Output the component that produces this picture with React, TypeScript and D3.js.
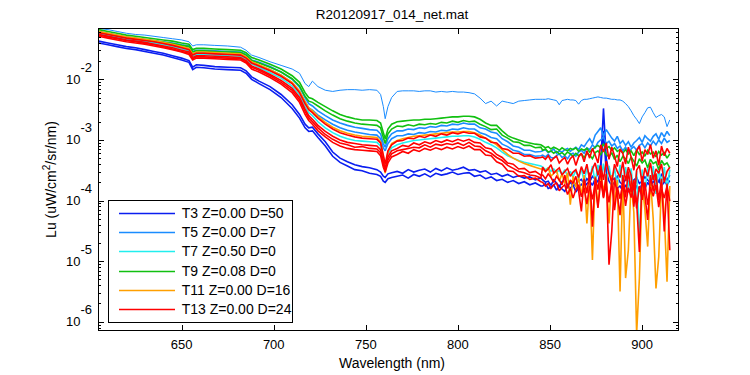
import React from 'react';
import * as d3 from 'd3';

// Wavelength grids (nm): smooth part and noisy tail
const WL_SMOOTH = [
  605, 610, 615, 620, 625, 630, 635, 640, 645, 650,
  654, 656, 658, 662, 668, 675, 682, 685, 688, 692,
  698, 704, 710, 714, 717, 719, 721, 724, 728, 732,
  736, 740, 744, 748, 752, 756, 758, 759.5, 760.5, 762,
  764, 767, 770, 773, 776, 779, 782, 785, 788, 791,
  794, 797, 800, 803, 806, 809, 812, 815, 818, 821,
  824, 827, 830, 833, 836, 839, 842, 845,
];
const WL_NOISE = [
  846, 847.5, 849, 850.5, 852, 853.5, 855, 856.5, 858, 859.5,
  861, 862.5, 864, 865.5, 867, 868.5, 870, 871.5, 873, 874.5,
  876, 877.5, 879, 880.5, 882, 883.5, 885, 886.5, 888, 889.5,
  891, 892.5, 894, 895.5, 897, 898.5, 900, 901.5, 903, 904.5,
  906, 907.5, 909, 910.5, 912, 913.5, 915,
];

// log10(Lu) values
const T3A = [
  -1.37, -1.40, -1.43, -1.46, -1.48, -1.51, -1.54, -1.57, -1.61, -1.65,
  -1.69, -1.80, -1.76, -1.77, -1.79, -1.80, -1.81, -1.86, -1.96, -2.03,
  -2.12, -2.25, -2.42, -2.58, -2.74, -2.80, -2.79, -2.90, -3.03, -3.20,
  -3.30, -3.36, -3.41, -3.44, -3.46, -3.49, -3.53, -3.60, -3.62, -3.56,
  -3.54, -3.52, -3.55, -3.49, -3.53, -3.50, -3.48, -3.53, -3.47, -3.51,
  -3.46, -3.50, -3.48, -3.45, -3.50, -3.49, -3.53, -3.51, -3.57, -3.55,
  -3.60, -3.57, -3.62, -3.59, -3.63, -3.61, -3.66, -3.63,
];
const T3A_N = [
  -3.66, -3.70, -3.68, -3.75, -3.66, -3.71, -3.77, -3.69, -3.66, -3.74,
  -3.70, -3.76, -3.72, -3.68, -3.65, -3.73, -3.64, -3.69, -3.60, -3.65,
  -3.55, -3.40, -2.48, -3.30, -3.55, -3.62, -3.66, -3.60, -3.70, -3.74,
  -3.64, -3.69, -3.77, -3.66, -3.62, -3.72, -3.68, -3.61, -3.66, -3.71,
  -3.58, -3.64, -3.69, -3.57, -3.62, -3.66, -3.58,
];
const T3B = [
  -1.40, -1.43, -1.46, -1.49, -1.51, -1.54, -1.57, -1.60, -1.64, -1.68,
  -1.72, -1.84, -1.80, -1.81, -1.83, -1.84, -1.85, -1.90, -2.00, -2.07,
  -2.17, -2.30, -2.48, -2.64, -2.80, -2.86, -2.85, -2.96, -3.10, -3.27,
  -3.37, -3.43, -3.49, -3.51, -3.55, -3.57, -3.60, -3.68, -3.70, -3.64,
  -3.62, -3.60, -3.58, -3.63, -3.57, -3.60, -3.56, -3.61, -3.55, -3.58,
  -3.56, -3.53, -3.57, -3.55, -3.54, -3.60, -3.58, -3.64, -3.61, -3.67,
  -3.65, -3.70, -3.67, -3.72, -3.69, -3.74, -3.71, -3.76,
];
const T3B_N = [
  -3.76, -3.72, -3.80, -3.78, -3.74, -3.83, -3.76, -3.81, -3.85, -3.75,
  -3.80, -3.74, -3.86, -3.79, -3.73, -3.78, -3.72, -3.68, -3.75, -3.64,
  -3.70, -3.48, -2.85, -3.52, -3.68, -3.75, -3.70, -3.80, -3.76, -3.84,
  -3.74, -3.86, -3.79, -3.90, -3.75, -3.82, -3.72, -3.80, -3.70, -3.77,
  -3.68, -3.74, -3.66, -3.76, -3.69, -3.74, -3.67,
];
const T5A = [
  -1.16, -1.18, -1.21, -1.24, -1.26, -1.27, -1.29, -1.31, -1.33, -1.35,
  -1.38, -1.45, -1.43, -1.43, -1.44, -1.45, -1.47, -1.52, -1.60, -1.64,
  -1.71, -1.77, -1.83, -1.90, -2.07, -2.12, -2.03, -2.12, -2.18, -2.20,
  -2.18, -2.17, -2.17, -2.18, -2.17, -2.18, -2.25, -2.45, -2.65, -2.45,
  -2.30, -2.20, -2.19, -2.19, -2.19, -2.20, -2.19, -2.19, -2.21, -2.20,
  -2.21, -2.20, -2.21, -2.21, -2.22, -2.24, -2.31, -2.40, -2.36, -2.44,
  -2.36, -2.38, -2.40, -2.36, -2.35, -2.34, -2.33, -2.33,
];
const T5A_N = [
  -2.33, -2.33, -2.32, -2.33, -2.34, -2.35, -2.42, -2.35, -2.34, -2.33,
  -2.34, -2.34, -2.35, -2.41, -2.35, -2.33, -2.33, -2.32, -2.31, -2.30,
  -2.29, -2.30, -2.31, -2.31, -2.32, -2.33, -2.33, -2.34, -2.34, -2.36,
  -2.40, -2.45, -2.52, -2.60, -2.66, -2.73, -2.62, -2.55, -2.47, -2.46,
  -2.55, -2.63, -2.60, -2.58, -2.62, -2.78, -2.67,
];
const T5B = [
  -1.21, -1.24, -1.27, -1.30, -1.32, -1.34, -1.36, -1.38, -1.40, -1.43,
  -1.45, -1.54, -1.52, -1.52, -1.53, -1.54, -1.55, -1.59, -1.68, -1.72,
  -1.79, -1.88, -2.00, -2.13, -2.30, -2.40, -2.44, -2.52, -2.60, -2.67,
  -2.72, -2.76, -2.79, -2.81, -2.83, -2.84, -2.90, -3.06, -3.12, -2.98,
  -2.90, -2.85, -2.85, -2.82, -2.83, -2.80, -2.81, -2.78, -2.79, -2.76,
  -2.77, -2.74, -2.75, -2.72, -2.74, -2.74, -2.80, -2.82, -2.87, -2.89,
  -2.98, -3.03, -3.10, -3.12, -3.17, -3.17, -3.20, -3.19,
];
const T5B_N = [
  -3.18, -3.16, -3.21, -3.19, -3.15, -3.22, -3.18, -3.20, -3.16, -3.14,
  -3.19, -3.15, -3.12, -3.16, -3.08, -3.11, -3.04, -2.98, -3.06, -2.92,
  -2.86, -2.80, -2.94, -2.83, -2.90, -2.97, -3.02, -2.94, -3.06, -3.01,
  -3.09, -3.03, -3.12, -3.05, -3.01, -2.96, -3.04, -2.93, -2.98, -3.02,
  -2.94, -2.90, -2.99, -2.88, -2.95, -2.86, -2.93,
];
const T5C = [
  -1.25, -1.28, -1.31, -1.34, -1.36, -1.38, -1.40, -1.42, -1.44, -1.47,
  -1.49, -1.58, -1.56, -1.56, -1.57, -1.58, -1.59, -1.63, -1.72, -1.77,
  -1.84, -1.93, -2.06, -2.20, -2.37, -2.47, -2.51, -2.59, -2.67, -2.74,
  -2.80, -2.84, -2.87, -2.89, -2.91, -2.92, -2.98, -3.13, -3.18, -3.06,
  -2.98, -2.93, -2.93, -2.90, -2.91, -2.88, -2.89, -2.86, -2.87, -2.84,
  -2.85, -2.82, -2.83, -2.80, -2.82, -2.82, -2.88, -2.91, -2.96, -2.98,
  -3.07, -3.11, -3.17, -3.19, -3.24, -3.24, -3.27, -3.26,
];
const T5C_N = [
  -3.25, -3.28, -3.24, -3.29, -3.30, -3.26, -3.23, -3.29, -3.26, -3.31,
  -3.24, -3.22, -3.27, -3.20, -3.17, -3.22, -3.13, -3.16, -3.08, -3.13,
  -3.04, -3.00, -2.95, -3.06, -3.02, -3.10, -3.06, -3.14, -3.10, -3.18,
  -3.12, -3.20, -3.15, -3.11, -3.17, -3.09, -3.06, -3.13, -3.05, -3.10,
  -3.02, -3.08, -3.00, -3.06, -2.97, -3.04, -3.01,
];
const T7A = [
  -1.24, -1.27, -1.30, -1.33, -1.35, -1.37, -1.40, -1.43, -1.46, -1.50,
  -1.53, -1.62, -1.59, -1.59, -1.60, -1.61, -1.62, -1.67, -1.75, -1.80,
  -1.89, -1.98, -2.11, -2.26, -2.45, -2.55, -2.60, -2.70, -2.80, -2.88,
  -2.94, -2.98, -3.01, -3.02, -3.03, -3.04, -3.10, -3.30, -3.44, -3.23,
  -3.13, -3.08, -3.05, -3.03, -3.01, -3.00, -2.99, -2.98, -2.97, -2.96,
  -2.95, -2.94, -2.94, -2.93, -2.93, -2.95, -2.99, -3.04, -3.08, -3.13,
  -3.20, -3.26, -3.30, -3.34, -3.37, -3.39, -3.41, -3.43,
];
const T7A_N = [
  -3.45, -3.49, -3.46, -3.52, -3.48, -3.54, -3.50, -3.57, -3.49, -3.60,
  -3.52, -3.61, -3.50, -3.64, -3.47, -3.69, -3.46, -3.65, -3.43, -3.71,
  -3.41, -3.66, -3.39, -3.74, -3.43, -3.69, -3.46, -3.77, -3.41, -3.71,
  -3.45, -3.79, -3.47, -3.94, -3.51, -4.71, -3.49, -3.84, -3.46, -3.75,
  -3.43, -3.89, -3.47, -3.73, -3.45, -3.81, -3.49,
];
const T9A = [
  -1.18, -1.21, -1.24, -1.27, -1.29, -1.31, -1.33, -1.35, -1.37, -1.40,
  -1.42, -1.51, -1.49, -1.49, -1.50, -1.51, -1.52, -1.56, -1.64, -1.68,
  -1.75, -1.83, -1.94, -2.05, -2.22, -2.30, -2.32, -2.38, -2.45, -2.52,
  -2.58, -2.62, -2.65, -2.67, -2.67, -2.68, -2.72, -2.88, -2.98, -2.82,
  -2.74, -2.70, -2.69, -2.68, -2.67, -2.67, -2.66, -2.66, -2.65, -2.64,
  -2.63, -2.62, -2.62, -2.61, -2.61, -2.62, -2.66, -2.72, -2.76, -2.76,
  -2.85, -2.93, -2.97, -3.00, -3.03, -3.05, -3.07, -3.08,
];
const T9A_N = [
  -3.10, -3.13, -3.11, -3.15, -3.12, -3.14, -3.17, -3.13, -3.16, -3.18,
  -3.14, -3.16, -3.13, -3.19, -3.15, -3.17, -3.14, -3.20, -3.16, -3.12,
  -3.09, -3.13, -3.07, -3.14, -3.11, -3.17, -3.13, -3.19, -3.16, -3.22,
  -3.16, -3.23, -3.18, -3.26, -3.17, -3.24, -3.20, -3.27, -3.17, -3.23,
  -3.20, -3.28, -3.19, -3.25, -3.21, -3.30, -3.23,
];
const T9B = [
  -1.22, -1.25, -1.28, -1.31, -1.33, -1.35, -1.37, -1.39, -1.41, -1.44,
  -1.46, -1.55, -1.53, -1.53, -1.54, -1.55, -1.56, -1.60, -1.69, -1.73,
  -1.80, -1.88, -1.99, -2.11, -2.28, -2.36, -2.38, -2.44, -2.52, -2.59,
  -2.65, -2.69, -2.72, -2.74, -2.75, -2.76, -2.80, -2.96, -3.06, -2.90,
  -2.82, -2.77, -2.78, -2.75, -2.77, -2.74, -2.75, -2.73, -2.74, -2.71,
  -2.72, -2.69, -2.71, -2.68, -2.70, -2.69, -2.74, -2.78, -2.83, -2.82,
  -2.92, -2.97, -3.03, -3.04, -3.09, -3.09, -3.13, -3.12,
];
const T9B_N = [
  -3.17, -3.15, -3.20, -3.18, -3.22, -3.19, -3.23, -3.21, -3.25, -3.20,
  -3.23, -3.27, -3.22, -3.26, -3.23, -3.29, -3.22, -3.25, -3.31, -3.21,
  -3.18, -3.24, -3.15, -3.24, -3.28, -3.21, -3.32, -3.25, -3.36, -3.27,
  -3.31, -3.39, -3.28, -3.35, -3.43, -3.31, -3.38, -3.33, -3.46, -3.32,
  -3.39, -3.36, -3.49, -3.34, -3.41, -3.38, -3.46,
];
const T11A = [
  -1.21, -1.24, -1.27, -1.30, -1.32, -1.34, -1.36, -1.39, -1.42, -1.46,
  -1.49, -1.58, -1.55, -1.55, -1.56, -1.57, -1.58, -1.63, -1.71, -1.76,
  -1.84, -1.93, -2.05, -2.19, -2.37, -2.47, -2.52, -2.61, -2.71, -2.79,
  -2.85, -2.89, -2.92, -2.94, -2.95, -2.96, -3.03, -3.28, -3.55, -3.20,
  -3.06, -3.01, -2.98, -2.96, -2.94, -2.93, -2.92, -2.91, -2.90, -2.89,
  -2.88, -2.87, -2.87, -2.86, -2.86, -2.88, -2.92, -2.97, -3.02, -3.08,
  -3.16, -3.24, -3.30, -3.35, -3.39, -3.42, -3.45, -3.48,
];
const T11A_N = [
  -3.48, -3.52, -3.46, -3.60, -3.55, -3.50, -3.68, -3.56, -3.72, -3.54,
  -4.07, -3.60, -3.78, -3.62, -3.92, -3.58, -4.38, -3.66, -4.98, -3.60,
  -4.10, -3.55, -3.84, -3.62, -4.38, -3.58, -4.05, -3.66, -5.50, -3.60,
  -5.28, -4.82, -3.68, -4.20, -6.20, -5.28, -3.72, -4.15, -4.76, -3.64,
  -4.30, -5.45, -4.93, -3.70, -4.22, -5.34, -3.76,
];
const T13A = [
  -1.23, -1.26, -1.29, -1.32, -1.34, -1.36, -1.38, -1.41, -1.44, -1.48,
  -1.51, -1.60, -1.57, -1.57, -1.58, -1.59, -1.60, -1.65, -1.73, -1.78,
  -1.86, -1.95, -2.07, -2.22, -2.40, -2.50, -2.55, -2.64, -2.74, -2.82,
  -2.88, -2.92, -2.95, -2.97, -2.98, -2.99, -3.05, -3.25, -3.40, -3.18,
  -3.08, -3.02, -3.01, -2.97, -2.98, -2.94, -2.96, -2.92, -2.94, -2.90,
  -2.92, -2.88, -2.90, -2.87, -2.89, -2.89, -2.95, -2.97, -3.04, -3.05,
  -3.14, -3.16, -3.22, -3.22, -3.27, -3.26, -3.30, -3.29,
];
const T13A_N = [
  -3.28, -3.32, -3.26, -3.35, -3.30, -3.27, -3.38, -3.33, -3.29, -3.40,
  -3.31, -3.26, -3.42, -3.28, -3.22, -3.36, -3.18, -3.30, -3.14, -3.25,
  -3.38, -3.08, -3.20, -3.05, -3.32, -3.12, -3.26, -3.44, -3.15, -3.22,
  -3.40, -3.12, -3.28, -3.50, -3.18, -3.10, -3.35, -3.16, -3.24, -3.08,
  -3.30, -3.18, -3.42, -3.10, -3.26, -3.14, -3.22,
];
const T13B = [
  -1.26, -1.29, -1.32, -1.35, -1.37, -1.39, -1.42, -1.45, -1.48, -1.52,
  -1.55, -1.64, -1.61, -1.61, -1.62, -1.63, -1.64, -1.69, -1.78, -1.83,
  -1.92, -2.02, -2.15, -2.30, -2.49, -2.60, -2.66, -2.76, -2.86, -2.94,
  -3.00, -3.04, -3.06, -3.08, -3.09, -3.10, -3.16, -3.36, -3.47, -3.28,
  -3.18, -3.14, -3.09, -3.11, -3.05, -3.08, -3.03, -3.06, -3.01, -3.04,
  -3.00, -3.03, -2.99, -3.02, -2.99, -3.04, -3.05, -3.13, -3.15, -3.24,
  -3.29, -3.38, -3.40, -3.48, -3.47, -3.54, -3.52, -3.58,
];
const T13B_N = [
  -3.58, -3.64, -3.56, -3.62, -3.70, -3.60, -3.66, -3.74, -3.58, -3.80,
  -3.66, -3.72, -3.60, -3.84, -4.18, -3.64, -3.88, -3.54, -4.43, -3.62,
  -3.82, -3.50, -3.96, -3.56, -5.06, -4.51, -3.62, -3.90, -4.24, -3.58,
  -3.95, -3.52, -3.86, -3.66, -4.02, -4.85, -3.60, -3.92, -4.32, -3.58,
  -3.85, -3.55, -4.00, -3.64, -4.51, -3.72, -4.82,
];
const T13C = [
  -1.29, -1.32, -1.35, -1.38, -1.40, -1.42, -1.45, -1.48, -1.51, -1.55,
  -1.59, -1.68, -1.65, -1.65, -1.66, -1.67, -1.68, -1.73, -1.83, -1.88,
  -1.97, -2.08, -2.22, -2.38, -2.58, -2.68, -2.74, -2.85, -2.95, -3.04,
  -3.10, -3.14, -3.16, -3.17, -3.18, -3.19, -3.26, -3.45, -3.53, -3.38,
  -3.28, -3.24, -3.19, -3.22, -3.16, -3.19, -3.14, -3.17, -3.13, -3.16,
  -3.12, -3.15, -3.11, -3.14, -3.10, -3.16, -3.16, -3.25, -3.26, -3.36,
  -3.40, -3.51, -3.52, -3.60, -3.59, -3.65, -3.63, -3.69,
];
const T13C_N = [
  -3.70, -3.76, -3.72, -3.80, -3.74, -3.71, -3.84, -3.78, -3.74, -3.90,
  -3.80, -3.96, -3.82, -3.74, -3.94, -3.79, -4.06, -3.76, -3.98, -3.72,
  -4.12, -3.68, -3.94, -3.75, -4.03, -3.70, -4.16, -3.78, -3.97, -3.72,
  -4.09, -3.79, -3.95, -3.74, -4.13, -3.76, -3.99, -3.70, -4.07, -3.78,
  -3.93, -3.74, -4.11, -3.81, -3.96, -3.76, -4.01,
];
const T13D = [
  -1.27, -1.30, -1.33, -1.36, -1.38, -1.41, -1.43, -1.46, -1.50, -1.54,
  -1.57, -1.66, -1.63, -1.63, -1.64, -1.65, -1.66, -1.71, -1.80, -1.85,
  -1.94, -2.05, -2.18, -2.34, -2.53, -2.64, -2.70, -2.80, -2.91, -2.99,
  -3.05, -3.08, -3.12, -3.11, -3.14, -3.15, -3.21, -3.40, -3.50, -3.33,
  -3.23, -3.18, -3.16, -3.14, -3.12, -3.13, -3.08, -3.12, -3.07, -3.09,
  -3.06, -3.08, -3.05, -3.09, -3.04, -3.10, -3.11, -3.18, -3.22, -3.29,
  -3.34, -3.42, -3.47, -3.52, -3.54, -3.58, -3.59, -3.63,
];
const T13D_N = [
  -3.45, -3.52, -3.48, -3.41, -3.55, -3.50, -3.46, -3.58, -3.52, -3.47,
  -3.60, -3.53, -3.49, -3.62, -3.44, -3.56, -3.40, -3.65, -3.48, -3.38,
  -3.58, -3.42, -3.66, -3.35, -3.55, -3.70, -3.40, -3.52, -3.62, -3.36,
  -3.68, -3.45, -3.58, -4.10, -3.50, -3.42, -3.72, -3.46, -3.60, -3.38,
  -3.66, -3.48, -3.55, -3.40, -3.70, -3.52, -3.45,
];

const LEGEND_LABELS = [
  'T3 Z=0.00 D=50',
  'T5 Z=0.00 D=7',
  'T7 Z=0.50 D=0',
  'T9 Z=0.08 D=0',
  'T11 Z=0.00 D=16',
  'T13 Z=0.00 D=24',
];
const COLORS = ['#0a1ef0', '#1a8cff', '#22eeee', '#10c010', '#ff9f00', '#ff0000'];
const SERIES_LINES = [
  [[T3A, T3A_N], [T3B, T3B_N]],
  [[T5A, T5A_N], [T5B, T5B_N], [T5C, T5C_N]],
  [[T7A, T7A_N]],
  [[T9A, T9A_N], [T9B, T9B_N]],
  [[T11A, T11A_N]],
  [[T13A, T13A_N], [T13D, T13D_N], [T13B, T13B_N], [T13C, T13C_N]],
];

const X_TICKS = [650, 700, 750, 800, 850, 900];
const Y_DECADES = [-2, -3, -4, -5, -6];

const FONT = '"Liberation Sans", Arial, Helvetica, sans-serif';

export default function App() {
  const W = 750;
  const H = 375;
  const L = 98, R = 679, T = 28, B = 331;
  const x = d3.scaleLinear().domain([604.6, 920]).range([L, R]);
  const y = d3.scaleLog().domain([Math.pow(10, -6.153), Math.pow(10, -1.153)]).range([B, T]);

  const wl = WL_SMOOTH.concat(WL_NOISE);
  const line = d3
    .line<[number, number]>()
    .x((d) => x(d[0]))
    .y((d) => y(Math.pow(10, d[1])));

  const minor: number[] = [];
  for (let k = -7; k <= -1; k++) {
    for (let m = 2; m <= 9; m++) {
      const v = m * Math.pow(10, k);
      const yy = y(v);
      if (yy > T + 0.5 && yy < B - 0.5) minor.push(v);
    }
  }

  const rowY = (i: number) => 212.7 + i * 19.3;

  return (
    <svg
      width={W}
      height={H}
      style={{ position: 'absolute', left: 0, top: 0, background: '#fff' }}
      fontFamily={FONT}
    >
      <rect x={0} y={0} width={W} height={H} fill="#fff" />
      <defs>
        <clipPath id="plotclip">
          <rect x={L} y={T} width={R - L} height={B - T} />
        </clipPath>
      </defs>
      <g clipPath="url(#plotclip)">
        {SERIES_LINES.map((lines, si) =>
          lines.map((pair, li) => {
            const vals = pair[0].concat(pair[1]);
            const n = Math.min(vals.length, wl.length);
            const pts: [number, number][] = [];
            for (let i = 0; i < n; i++) pts.push([wl[i], vals[i]]);
            const thin = si === 1 && li === 0;
            return (
              <path
                key={`${si}-${li}`}
                d={line(pts) || ''}
                fill="none"
                stroke={COLORS[si]}
                strokeWidth={thin ? 1 : 1.6}
                strokeLinejoin="miter"
                strokeMiterlimit={2}
              />
            );
          })
        )}
      </g>
      {/* axes box */}
      <rect x={L + 0.5} y={T + 0.5} width={R - L - 1} height={B - T - 1} fill="none" stroke="#000" strokeWidth={1} shapeRendering="crispEdges" />
      {/* x ticks */}
      {X_TICKS.map((t) => {
        const xx = Math.round(x(t)) + 0.5;
        return (
          <g key={`xt${t}`}>
            <line x1={xx} x2={xx} y1={B} y2={B - 6} stroke="#000" shapeRendering="crispEdges" />
            <line x1={xx} x2={xx} y1={T} y2={T + 6} stroke="#000" shapeRendering="crispEdges" />
            <text x={x(t)} y={349} fontSize={13} textAnchor="middle" fill="#000">
              {t}
            </text>
          </g>
        );
      })}
      {/* y major ticks */}
      {Y_DECADES.map((k) => {
        const yy = Math.round(y(Math.pow(10, k))) + 0.5;
        return (
          <g key={`yt${k}`}>
            <line x1={L} x2={L + 6} y1={yy} y2={yy} stroke="#000" shapeRendering="crispEdges" />
            <line x1={R} x2={R - 6} y1={yy} y2={yy} stroke="#000" shapeRendering="crispEdges" />
            <text x={92} y={y(Math.pow(10, k)) + 4.5} fontSize={13} textAnchor="end" fill="#000">
              10
              <tspan dy={-12}>{String(k)}</tspan>
            </text>
          </g>
        );
      })}
      {minor.map((v, i) => {
        const yy = Math.round(y(v)) + 0.5;
        return (
          <g key={`ym${i}`}>
            <line x1={L} x2={L + 3} y1={yy} y2={yy} stroke="#000" shapeRendering="crispEdges" />
            <line x1={R} x2={R - 3} y1={yy} y2={yy} stroke="#000" shapeRendering="crispEdges" />
          </g>
        );
      })}
      {/* title and labels */}
      <text x={392} y={19} fontSize={13.5} textAnchor="middle" fill="#000">
        R20120917_014_net.mat
      </text>
      <text x={392} y={368} fontSize={14} textAnchor="middle" fill="#000">
        Wavelength (nm)
      </text>
      <text transform="translate(56,179.5) rotate(-90)" fontSize={14} textAnchor="middle" fill="#000">
        Lu (uW/cm<tspan dy={-6} fontSize={10}>2</tspan>
        <tspan dy={6}>/sr/nm)</tspan>
      </text>
      {/* legend */}
      <rect x={108.5} y={200.5} width={184} height={122} fill="#fff" stroke="#000" strokeWidth={1} shapeRendering="crispEdges" />
      {LEGEND_LABELS.map((lab, i) => (
        <g key={`lg${i}`}>
          <path
            d={`M119,${Math.round(rowY(i)) + 0.5}H175`}
            fill="none"
            stroke={COLORS[i]}
            strokeWidth={1.5}
          />
          <text x={181.7} y={rowY(i) + 5} fontSize={14} fill="#000">
            {lab}
          </text>
        </g>
      ))}
    </svg>
  );
}
